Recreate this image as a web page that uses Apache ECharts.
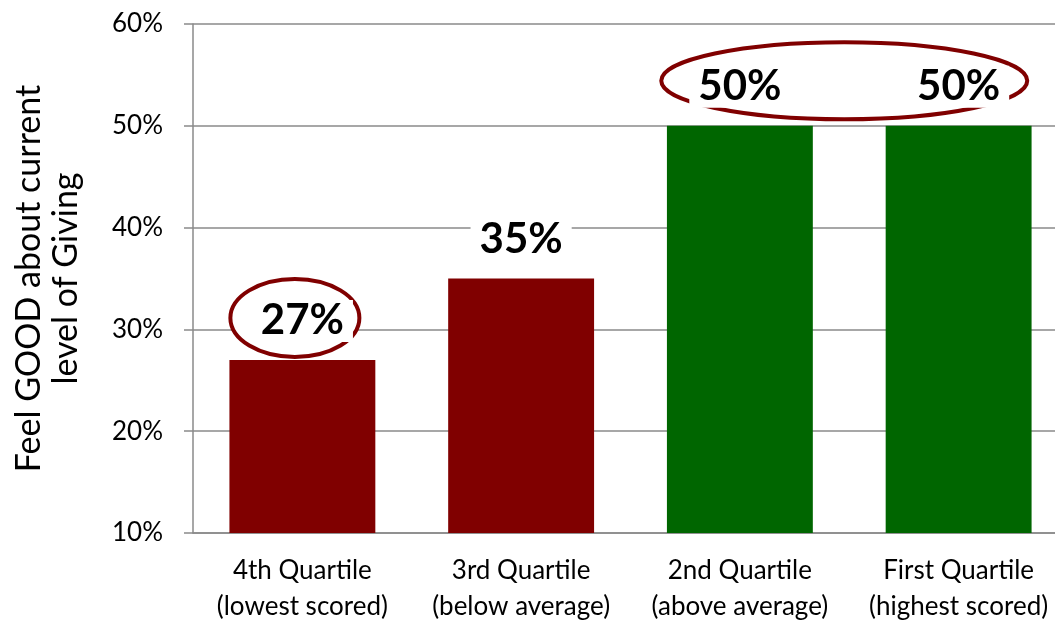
<!DOCTYPE html>
<html>
<head>
<meta charset="utf-8">
<script src="https://cdn.jsdelivr.net/npm/echarts@6/dist/echarts.min.js"></script>
<style>
  html, body { margin: 0; padding: 0; background: #fff; }
  #chart { width: 1055px; height: 620px; }
</style>
</head>
<body>
<div id="chart"></div>
<script>
// Share of respondents who feel good about their current level of giving, by quartile
const categories = [
  '4th Quartile\n(lowest scored)',
  '3rd Quartile\n(below average)',
  '2nd Quartile\n(above average)',
  'First Quartile\n(highest scored)'
];
const feelGood = [27, 35, 50, 50];
const barColors = ['#800000', '#800000', '#006600', '#006600'];
const axisTitle = 'Feel GOOD about current\nlevel of Giving';

const FONT = 'Lato';
const GRID_COLOR = '#8a8a8a';
const RING_COLOR = '#800000';

const chart = echarts.init(document.getElementById('chart'), null, { renderer: 'canvas' });

chart.setOption({
  animation: false,
  backgroundColor: '#ffffff',
  // plot area runs slightly past the right edge of the canvas
  grid: { left: 193, top: 24, width: 875, bottom: 87, outerBoundsMode: 'none', containLabel: false },
  xAxis: {
    type: 'category',
    data: categories,
    axisLine: { lineStyle: { color: GRID_COLOR, width: 1.5 } },
    axisTick: { length: 9, lineStyle: { color: GRID_COLOR, width: 1.5 } },
    axisLabel: {
      color: '#000', fontFamily: FONT, fontSize: 26, lineHeight: 36,
      margin: 20, interval: 0
    }
  },
  yAxis: {
    type: 'value',
    min: 10, max: 60, interval: 10,
    name: axisTitle,
    nameLocation: 'middle',
    nameRotate: 90,
    nameGap: 108,
    nameTextStyle: { color: '#000', fontFamily: FONT, fontSize: 34, lineHeight: 37 },
    axisLine: { show: true, lineStyle: { color: GRID_COLOR, width: 1.5 } },
    axisTick: { show: true, length: 9, lineStyle: { color: GRID_COLOR, width: 1.5 } },
    axisLabel: { color: '#000', fontFamily: FONT, fontSize: 26, margin: 30, formatter: '{value}%' },
    splitLine: { lineStyle: { color: GRID_COLOR, width: 1.5 } }
  },
  series: [{
    type: 'bar',
    barWidth: '66.7%',
    data: feelGood.map((v, i) => ({ value: v, itemStyle: { color: barColors[i] } })),
    label: {
      show: true,
      position: 'top',
      distance: 18,
      formatter: p => p.value + '%',
      color: '#000',
      fontFamily: FONT,
      fontWeight: 'bold',
      fontSize: 42,
      backgroundColor: '#fff',
      padding: [0, 9]
    }
  }]
});

// Highlight rings: one around the lowest quartile, one spanning the top two quartiles
function ring(fromIdx, toIdx, rx, ry, lift, shift) {
  const a = chart.convertToPixel({ seriesIndex: 0 }, [fromIdx, feelGood[fromIdx]]);
  const b = chart.convertToPixel({ seriesIndex: 0 }, [toIdx, feelGood[toIdx]]);
  return {
    type: 'ellipse',
    z: 1,
    shape: { cx: (a[0] + b[0]) / 2 + shift, cy: Math.min(a[1], b[1]) - lift, rx: rx, ry: ry },
    style: { fill: '#fff', stroke: RING_COLOR, lineWidth: 4 }
  };
}

chart.setOption({
  graphic: [
    ring(0, 0, 64.5, 39, 42, -7.5),
    ring(2, 3, 183, 38.5, 45, -5)
  ]
});
</script>
</body>
</html>
